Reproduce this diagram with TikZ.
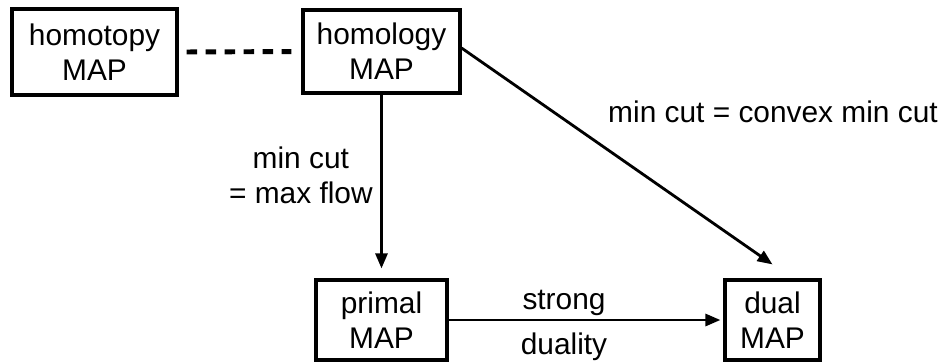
\documentclass[tikz,border=0pt]{standalone}
\usepackage{fontspec}
\setmainfont{Liberation Sans}
\usetikzlibrary{arrows.meta,positioning}
\tikzset{
    % Boxes with sharp corners
    mapbox/.style={
        rectangle,
        draw=black,
        fill=white,
        line width=1.8pt,
        inner sep=0pt,
        align=center,
        font=\fontsize{17pt}{20pt}\selectfont
    },
    labeltext/.style={
        inner sep=0pt,
        align=center,
        font=\fontsize{17pt}{20pt}\selectfont
    },
    arrow/.style={
        -{Triangle[length=0.3cm,width=0.24cm]},
        line width=1.6pt,
        color=black
    },
    dashedline/.style={
        line width=2.8pt,
        dash pattern=on 0.21cm off 0.17cm,
        color=black
    }
}
\begin{document}
\begin{tikzpicture}[x=0.02cm, y=-0.02cm]
    \useasboundingbox (0,0) rectangle (944,363);

    % Top row
    \node[mapbox, minimum width=3.3cm, minimum height=1.72cm] (homotopy) at (94.5,52) {homotopy\\MAP};
    \node[mapbox, minimum width=3.14cm, minimum height=1.66cm] (homology) at (381.5,51.5) {homology\\MAP};

    % Bottom row
    \node[mapbox, minimum width=2.62cm, minimum height=1.6cm] (primal) at (381.5,320) {primal\\MAP};
    \node[mapbox, minimum width=1.9cm, minimum height=1.6cm] (dual) at (772.5,320) {dual\\MAP};
    \coordinate (dualtop) at ([yshift=0.28cm]dual.north);

    % Labels
    \node[labeltext, anchor=east] (maxflow) at (373,175.5) {min cut\\= max flow};
    \node[labeltext] (convexcut) at (773,112) {min cut = convex min cut};

    % Connectors
    \draw[dashedline, shorten <=0.16cm, shorten >=0.2cm] (homotopy.east) -- (homology.west);
    \draw[arrow, shorten >=0.2cm] (homology.south) -- (primal.north);
    \draw[arrow] ([yshift=0.07cm]homology.east) -- (dualtop);
    \draw[arrow, shorten >=0.06cm] (primal.east) --
        node[labeltext, pos=0.42, above=0.06cm] (strong) {strong}
        node[labeltext, pos=0.42, below=0.22cm] (duality) {duality} (dual.west);
\end{tikzpicture}
\end{document}
